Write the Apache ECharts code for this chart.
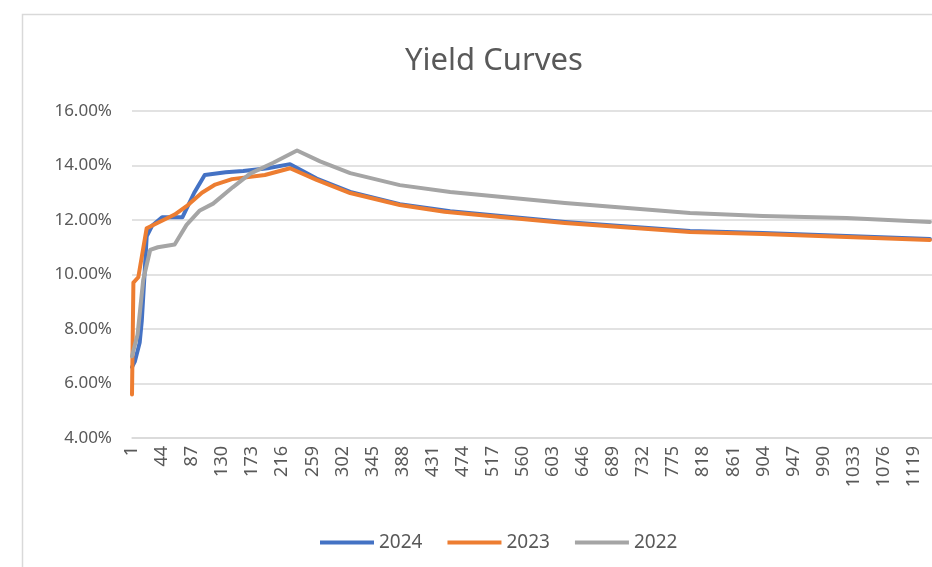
<!DOCTYPE html>
<html>
<head>
<meta charset="utf-8">
<title>Yield Curves</title>
<script src="https://cdn.jsdelivr.net/npm/echarts@6/dist/echarts.min.js"></script>
<style>
  html, body { margin: 0; padding: 0; background: #ffffff; }
  #chart { width: 932px; height: 567px; }
</style>
</head>
<body>
<div id="chart"></div>
<script>
// Days to maturity shown on the horizontal axis
const tickLabels = [1, 44, 87, 130, 173, 216, 259, 302, 345, 388, 431, 474, 517, 560,
  603, 646, 689, 732, 775, 818, 861, 904, 947, 990, 1033, 1076, 1119];

// Yield (%) by day to maturity, one list per year
const days2024 = [1, 5, 12, 15, 18, 22, 30, 44, 73, 90, 105, 135, 160, 195, 227, 265, 313, 384, 456, 620, 799, 903, 1023, 1142];
const yield2024 = [6.6, 6.8, 7.5, 8.3, 9.6, 11.4, 11.8, 12.1, 12.1, 13.0, 13.65, 13.75, 13.8, 13.9, 14.05, 13.52, 13.03, 12.58, 12.32, 11.93, 11.6, 11.52, 11.41, 11.3];

const days2023 = [1, 3, 10, 22, 38, 62, 81, 101, 120, 144, 191, 227, 265, 313, 384, 448, 620, 799, 903, 1023, 1142];
const yield2023 = [5.6, 9.7, 9.9, 11.7, 11.9, 12.2, 12.55, 13.0, 13.3, 13.5, 13.65, 13.9, 13.47, 12.99, 12.55, 12.3, 11.89, 11.56, 11.49, 11.38, 11.27];

const days2022 = [1, 9, 17, 27, 38, 62, 79, 98, 117, 145, 170, 203, 237, 270, 313, 384, 456, 620, 799, 903, 1023, 1142];
const yield2022 = [7.0, 7.8, 9.8, 10.9, 11.0, 11.1, 11.82, 12.35, 12.6, 13.2, 13.7, 14.1, 14.55, 14.15, 13.72, 13.28, 13.03, 12.62, 12.26, 12.15, 12.07, 11.93];

const seriesNames = ['2024', '2023', '2022'];
const seriesColors = ['#4472C4', '#ED7D31', '#A5A5A5'];

function pairs(xs, ys) {
  return xs.map((x, i) => [x, ys[i]]);
}
const seriesData = [pairs(days2024, yield2024), pairs(days2023, yield2023), pairs(days2022, yield2022)];

const textColor = '#595959';
const gridColor = '#D9D9D9';
const font = 'Noto Sans';

const chart = echarts.init(document.getElementById('chart'), null, { renderer: 'canvas' });

chart.setOption({
  animation: false,
  backgroundColor: '#ffffff',
  graphic: [{
    type: 'rect',
    shape: { x: 22.5, y: 14.5, width: 1000, height: 700 },
    style: { fill: 'none', stroke: gridColor, lineWidth: 1.5 },
    silent: true
  }],
  title: {
    text: 'Yield Curves',
    left: 400,
    top: 41,
    textStyle: { color: textColor, fontFamily: font, fontSize: 31, fontWeight: 'normal' }
  },
  legend: {
    data: seriesNames,
    left: 315,
    top: 528,
    icon: 'rect',
    itemWidth: 54,
    itemHeight: 4,
    itemGap: 25,
    textStyle: { color: textColor, fontFamily: font, fontSize: 19 }
  },
  grid: { left: 132, right: 0, top: 111, bottom: 129, containLabel: false },
  xAxis: {
    type: 'value',
    min: 1,
    max: 1145,
    axisLine: { show: true, lineStyle: { color: gridColor, width: 1.5 } },
    axisTick: { show: false },
    splitLine: { show: false },
    axisLabel: {
      customValues: tickLabels,
      rotate: 90,
      margin: 8,
      color: textColor,
      fontFamily: font,
      fontSize: 18,
      formatter: v => String(v)
    }
  },
  yAxis: {
    type: 'value',
    min: 4,
    max: 16,
    interval: 2,
    axisLine: { show: false },
    axisTick: { show: false },
    splitLine: { lineStyle: { color: gridColor, width: 1.5 } },
    axisLabel: {
      margin: 20,
      color: textColor,
      fontFamily: font,
      fontSize: 17,
      formatter: v => v.toFixed(2) + '%'
    }
  },
  series: seriesNames.map((name, i) => ({
    name: name,
    type: 'line',
    data: seriesData[i],
    showSymbol: false,
    symbol: 'none',
    smooth: false,
    color: seriesColors[i],
    lineStyle: { color: seriesColors[i], width: 4, cap: 'round', join: 'round' }
  }))
});
</script>
</body>
</html>
